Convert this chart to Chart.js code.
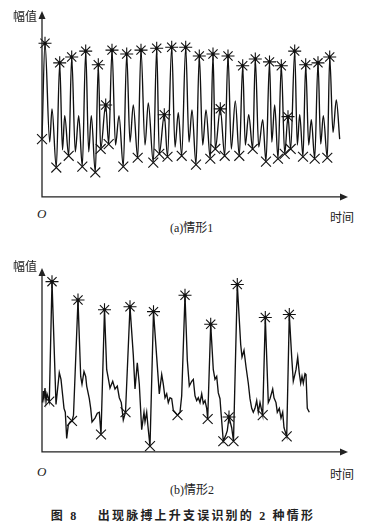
<!DOCTYPE html>
<html>
<head>
<meta charset="utf-8">
<script src="https://cdn.jsdelivr.net/npm/chart.js/dist/chart.umd.min.js"></script>
<style>
    body { margin: 0; background: #fff; width: 366px; height: 531px; position: relative; overflow: hidden; }
    canvas { position: absolute; left: 0; }
    .lbl { position: absolute; font-family: "Liberation Serif", "Noto Sans CJK SC", serif; font-size: 12px; line-height: 16px; color: #222; white-space: nowrap; }
    .o { font-style: italic; font-size: 13px; }
    .cap { position: absolute; left: 0; width: 366px; text-align: center; font-family: "Liberation Serif", "Noto Sans CJK SC", serif; font-weight: bold; font-size: 12px; letter-spacing: 2.2px; line-height: 16px; color: #222; }
</style>
</head>
<body>
<canvas id="chartA" width="366" height="205" style="top:0px"></canvas>
<canvas id="chartB" width="366" height="200" style="top:260px"></canvas>

<div class="lbl" style="left:13px; top:9px">幅值</div>
<div class="lbl o" style="left:37px; top:206px">O</div>
<div class="lbl" style="left:330px; top:210px">时间</div>
<div class="lbl" style="left:170px; top:220px">(a)情形1</div>

<div class="lbl" style="left:13px; top:259px">幅值</div>
<div class="lbl o" style="left:37px; top:464px">O</div>
<div class="lbl" style="left:330px; top:467px">时间</div>
<div class="lbl" style="left:170px; top:482px">(b)情形2</div>

<div class="cap" style="top:508px">图 8　 出现脉搏上升支误识别的 2 种情形</div>

<script>
// 情形1 信号 (time, amplitude)
const timeA = [0, 3, 7.7, 10, 14.3, 17.7, 20.5, 22.7, 26.7, 29.7, 33.3, 36.7, 40.3, 43.7, 46.7, 49.3, 53.3, 56.3,
    58.7, 63.7, 66.7, 70, 73.5, 77, 81.3, 84.7, 88, 91.3, 95.7, 99, 103, 106.3, 111.3, 114.7, 117.3, 122.3, 125.5,
    129.7, 133, 136.3, 139.7, 143.7, 147, 150, 154, 157.3, 160.7, 164, 168.3, 171, 173.3, 178.3, 182.7, 186, 189.3,
    193.3, 197.3, 200.7, 203.3, 206.7, 210.7, 213.3, 216.7, 220.7, 224, 227.5, 229.8, 232.7, 236, 239.3, 242.7, 246,
    248.7, 252.7, 255.3, 257.7, 261, 263.7, 266.7, 269.3, 272.7, 276, 278.7, 281.3, 285.3, 287.7, 291, 294.3, 297.7];
const ampA = [59, 157, 56, 90, 30, 137, 48, 83, 42, 143, 46, 83, 31, 149, 46, 83, 25, 135,
    49, 94, 54, 150, 53, 83, 31, 146, 56, 94, 40, 150, 53, 96, 35, 152, 44, 84, 41,
    153, 51, 86, 42, 153, 56, 89, 33, 144, 53, 89, 39, 146, 49, 90, 42, 144, 49,
    98, 42, 134, 53, 84, 49, 141, 51, 79, 36, 138, 56, 94, 39, 134, 44, 82,
    49, 149, 53, 84, 41, 135, 53, 79, 39, 137, 54, 83, 40, 143, 66, 99, 59];
const peakTimeA = [3, 17.7, 29.7, 43.7, 56.3, 63.7, 70, 84.7, 99, 114.7, 122.3, 129.7, 143.7, 157.3, 171, 178.3, 186,
    200.7, 213.3, 227.5, 239.3, 246, 252.7, 263.7, 276, 287.7];
const peakAmpA = [157, 137, 143, 149, 135, 94, 150, 146, 150, 152, 84, 153, 153, 144, 146, 90, 144,
    134, 141, 138, 134, 82, 149, 135, 137, 143];
const footTimeA = [0, 14.3, 26.7, 40.3, 53.3, 58.7, 66.7, 81.3, 95.7, 111.3, 117.3, 125.5, 139.7, 154, 168.3, 173.3,
    182.7, 197.3, 210.7, 224, 236, 242.7, 248.7, 261, 272.7, 285.3];
const footAmpA = [59, 30, 42, 31, 25, 49, 54, 31, 40, 35, 44, 41, 42, 33, 39, 49,
    42, 42, 49, 36, 39, 44, 49, 41, 39, 40];

// 情形2 信号
const timeB = [0.5, 1.3, 2, 3, 4, 5, 7.3, 10, 14, 17.3, 19, 20.7, 22, 23.3, 24.7, 26.3, 28, 30, 31.5, 36,
    38.7, 40, 42, 43.7, 44.7, 47.3, 48.7, 50, 53, 55.3, 57.3, 59, 62.5, 64.7, 66.3, 68, 70.7, 73, 75.3, 77.3,
    79.3, 81.3, 83.5, 88, 91.3, 93, 95.3, 97.3, 99.7, 102, 103, 104.7, 106, 108, 111.5, 114.7, 117.3, 119.7,
    121.3, 123, 124.7, 126.3, 128, 129.7, 131.3, 135.5, 138, 139.7, 143, 145.3, 147.3, 149.7, 151.3, 153,
    154.7, 156.3, 158, 159.7, 161.3, 163, 164.7, 165.7, 168.7, 171.3, 173, 174.7, 176.3, 178, 179, 181.3,
    184, 185.3, 187, 189.7, 191.5, 195.3, 198.7, 200, 202, 204, 206.3, 208, 209.7, 211.3, 213, 214.7, 216.3,
    218, 220.7, 223.3, 226.3, 228, 230.7, 232, 234, 235.3, 237.3, 239, 240.7, 242, 244.7, 247.3, 249.7,
    251.3, 254, 255.7, 257.3, 258.7, 260, 261.3, 263, 264, 265.3, 267.3];
const ampB = [51, 63, 56, 66, 52, 60, 52, 176, 49, 82, 75, 58, 45, 41, 14, 28, 31, 32, 38, 157,
    78, 70, 83, 78, 68, 55, 45, 31, 35, 40, 41, 18, 147, 85, 76, 66, 73, 65, 68, 56,
    51, 33, 41, 150, 100, 65, 92, 70, 23, 41, 31, 41, 26, 6, 145, 98, 60, 80,
    70, 56, 60, 51, 56, 55, 43, 38, 41, 58, 162, 95, 68, 73, 75, 58,
    53, 56, 51, 60, 50, 53, 45, 34, 132, 85, 75, 78, 61, 55, 41, 11,
    18, 22, 36, 25, 11, 173, 111, 98, 105, 88, 71, 55, 45, 41, 45, 53, 41,
    51, 38, 139, 51, 55, 65, 56, 51, 41, 45, 35, 41, 25, 16, 142, 98,
    73, 85, 98, 81, 71, 78, 71, 81, 80, 45, 41];
const peakTimeB = [10, 36, 62.5, 88, 111.5, 143, 168.7, 187, 195.3, 223.3, 247.3];
const peakAmpB = [176, 157, 147, 150, 145, 162, 132, 36, 173, 139, 142];
const footTimeB = [7.3, 30, 59, 83.5, 108, 135.5, 165.7, 181.3, 191.5, 220.7, 244.7];
const footAmpB = [52, 32, 18, 41, 6, 38, 34, 11, 11, 38, 16];

const toXY = (xs, ys) => xs.map((x, i) => ({ x: x, y: ys[i] }));

// 坐标轴 + 箭头
const axesArrows = {
    id: 'axesArrows',
    afterDraw(chart) {
        const c = chart.ctx, a = chart.chartArea;
        c.save();
        c.strokeStyle = '#222';
        c.fillStyle = '#222';
        c.lineWidth = 1.3;
        c.beginPath();
        c.moveTo(a.left, a.top + 6);
        c.lineTo(a.left, a.bottom);
        c.lineTo(a.right - 6, a.bottom);
        c.stroke();
        c.beginPath();
        c.moveTo(a.left, a.top);
        c.lineTo(a.left - 3.5, a.top + 8);
        c.lineTo(a.left + 3.5, a.top + 8);
        c.closePath();
        c.fill();
        c.beginPath();
        c.moveTo(a.right, a.bottom);
        c.lineTo(a.right - 8, a.bottom - 3.5);
        c.lineTo(a.right - 8, a.bottom + 3.5);
        c.closePath();
        c.fill();
        c.restore();
    }
};

function makeChart(id, t, v, pt, pv, ft, fv, smooth, padTop) {
    return new Chart(document.getElementById(id), {
        type: 'scatter',
        data: {
            datasets: [
                {
                    data: toXY(t, v),
                    showLine: true,
                    borderColor: '#111',
                    borderWidth: 1.35,
                    pointRadius: 0,
                    cubicInterpolationMode: smooth ? 'monotone' : 'default',
                    tension: 0,
                    clip: false
                },
                {
                    data: toXY(pt, pv),
                    pointStyle: 'star',
                    pointRadius: 6.5,
                    borderColor: '#111',
                    borderWidth: 1.1,
                    clip: false
                },
                {
                    // 星号中心的小圆点
                    data: toXY(pt, pv),
                    pointStyle: 'circle',
                    pointRadius: 1.6,
                    backgroundColor: '#111',
                    borderWidth: 0,
                    clip: false
                },
                {
                    data: toXY(ft, fv),
                    pointStyle: 'crossRot',
                    pointRadius: 7,
                    borderColor: '#111',
                    borderWidth: 1.1,
                    clip: false
                }
            ]
        },
        plugins: [axesArrows],
        options: {
            responsive: false,
            animation: false,
            layout: { padding: { left: 42, right: 18, top: padTop, bottom: 4 } },
            plugins: { legend: { display: false }, tooltip: { enabled: false } },
            scales: {
                x: { display: false, min: 0, max: 306 },
                y: { display: false, min: 0, max: 190 }
            }
        }
    });
}

makeChart('chartA', timeA, ampA, peakTimeA, peakAmpA, footTimeA, footAmpA, true, 11);
makeChart('chartB', timeB, ampB, peakTimeB, peakAmpB, footTimeB, footAmpB, false, 8);
</script>
</body>
</html>
